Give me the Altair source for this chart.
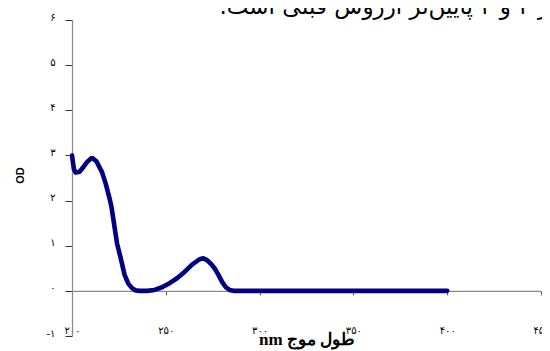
import altair as alt
import pandas as pd

# Spectrum values
wavelength = [200, 201, 202, 204, 206, 208, 210, 211, 213, 216, 218, 220, 221, 222, 224, 226,
              228, 230, 232, 234, 236, 240, 244, 248, 252, 256, 260, 264, 268, 270, 272, 274,
              276, 278, 280, 282, 284, 286, 300, 350, 400]
od = [3.0, 2.7, 2.62, 2.64, 2.74, 2.85, 2.93, 2.94, 2.87, 2.63, 2.37, 2.05, 1.87, 1.6, 1.05, 0.72,
      0.36, 0.16, 0.06, 0.01, 0.0, 0.0, 0.02, 0.08, 0.17, 0.28, 0.42, 0.58, 0.7, 0.72, 0.68, 0.6,
      0.5, 0.36, 0.2, 0.08, 0.02, 0.0, 0.0, 0.0, 0.0]

x_ticks = [200, 250, 300, 350, 400, 450]
x_labels = ["۲۰۰", "۲۵۰", "۳۰۰", "۳۵۰", "۴۰۰", "۴۵۰"]
y_ticks = [-1, 0, 1, 2, 3, 4, 5, 6]
y_labels = ["-۱", "۰", "۱", "۲", "۳", "۴", "۵", "۶"]

x_title = "nm طول موج"
y_title = "OD"
top_text = ["ر ۲ و ۳ پایین‌تر ازروش قبلی است.\u200f"]

def label_expr(values, labels):
    parts = [f"datum.value == {v} ? '{l}'" for v, l in zip(values, labels)]
    return " : ".join(parts) + " : ''"

df = pd.DataFrame({"wl": wavelength, "od": od})

line = alt.Chart(df).mark_line(
    color="#000080", strokeWidth=4.6, strokeJoin="round", strokeCap="round"
).encode(
    x=alt.X("wl:Q", scale=alt.Scale(domain=[200, 450], nice=False, zero=False),
            axis=alt.Axis(values=x_ticks, labelExpr=label_expr(x_ticks, x_labels),
                          title=x_title, offset=-316 / 7, grid=False,
                          domainColor="#8a8a8a", domainWidth=1.2,
                          tickColor="#555555", tickSize=4,
                          labelFont="DejaVu Sans", labelFontSize=10, labelColor="black",
                          labelPadding=31, labelFlush=False,
                          titleFont="Liberation Serif", titleFontSize=17, titleFontWeight="bold",
                          titleColor="black", titleY=54, titleBaseline="alphabetic")),
    y=alt.Y("od:Q", scale=alt.Scale(domain=[-1, 6], nice=False, zero=False),
            axis=alt.Axis(values=y_ticks, labelExpr=label_expr(y_ticks, y_labels),
                          title=y_title, grid=False,
                          domainColor="#8a8a8a", domainWidth=1.2,
                          tickColor="#333333", tickSize=7,
                          labelFont="DejaVu Sans", labelFontSize=10, labelColor="black",
                          labelPadding=10, labelOffset=-3,
                          titleFont="Liberation Sans", titleFontSize=11, titleFontWeight="bold",
                          titleColor="black", titleX=-52, titleY=155, titleAngle=270,
                          titleAlign="center", titleBaseline="middle")),
)

header = alt.Chart(pd.DataFrame({"t": top_text})).mark_text(
    align="right", baseline="alphabetic", fontSize=23, font="DejaVu Sans",
    color="black", dx=8, dy=-6
).encode(text="t:N", x=alt.value(469), y=alt.value(0))

chart = alt.layer(line, header).properties(
    width=469, height=316,
    autosize=alt.AutoSizeParams(type="none"),
    padding={"left": 64, "top": 12, "right": 1, "bottom": 15},
).configure_view(stroke=None)

chart.save("out.html", embed_options={"renderer": "svg", "actions": False})
